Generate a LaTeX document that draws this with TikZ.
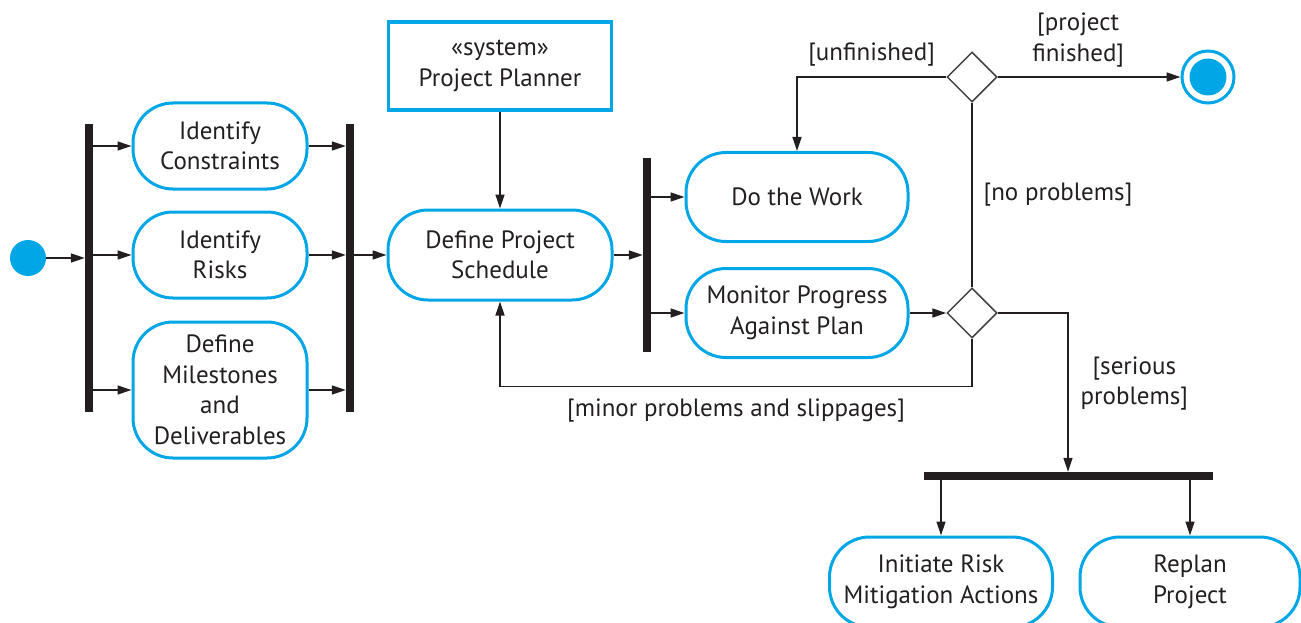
\documentclass[tikz,border=0pt]{standalone}
\usepackage{fontspec}
\setmainfont{PT Sans}
\usepackage{tikz}
\usetikzlibrary{arrows.meta,shapes.geometric,positioning}
\definecolor{actblue}{RGB}{0,166,230}
\definecolor{ink}{RGB}{35,31,32}
\newcommand{\actfont}{\fontsize{25}{30.5}\selectfont}
\newcommand{\lw}{1.3pt}

\tikzset{
  activity/.style={draw=actblue, line width=3pt, rounded corners=40pt, minimum width=174pt,
    minimum height=86pt, align=center, text=ink, font=\actfont, inner sep=0pt},
  system/.style={draw=actblue, line width=3.5pt, minimum width=223pt, minimum height=88pt,
    align=center, text=ink, font=\actfont, inner sep=0pt},
  bar/.style={fill=ink, inner sep=0pt, minimum width=8pt},
  hbar/.style={fill=ink, inner sep=0pt, minimum height=8pt},
  decision/.style={diamond, draw=ink!85, line width=1.5pt, minimum width=50pt, minimum height=50pt, inner sep=0pt},
  startdot/.style={circle, fill=actblue, minimum size=36pt, inner sep=0pt},
  endring/.style={circle, draw=actblue, line width=3pt, minimum size=52pt, inner sep=0pt},
  enddot/.style={circle, fill=actblue, minimum size=37pt, inner sep=0pt},
  arr/.style={-{Triangle[length=14pt,width=9pt]}, line width=\lw, draw=ink},
  flow/.style={line width=\lw, draw=ink},
  guard/.style={font=\actfont, text=ink, align=center, inner sep=0pt}
}

\begin{document}
\begin{tikzpicture}[x=1pt, y=-1pt]
        %\draw[help lines] (0,0) grid[step=50] (1301,623);
        \clip (0,0) rectangle (1301,623);
        % initial node and first fork
        \node[startdot] (start) at (28,258) {};
        \node[bar, minimum height=288pt] (fork1) at (89,268) {};
        \node[activity] (constraints) at (220,146) {Identify\\Constraints};
        \node[activity] (risks) at (220,255) {Identify\\Risks};
        \node[activity, minimum height=136pt] (milestones) at (220,390) {Define\\Milestones\\and\\Deliverables};
        \node[bar, minimum height=288pt] (join1) at (350,268) {};
        % schedule
        \node[system] (planner) at (500,66) {«system»\\Project Planner};
        \node[activity, minimum width=224pt, minimum height=90pt] (schedule) at (500,255) {Define Project\\Schedule};
        \node[bar, minimum height=194pt] (fork2) at (647,255) {};
        \node[activity, minimum width=222pt, minimum height=89pt] (work) at (797,197) {Do the Work};
        \node[activity, minimum width=222pt, minimum height=89pt] (monitor) at (797,313) {Monitor Progress\\Against Plan};
        % decisions and final node
        \node[decision] (check) at (972,313) {};
        \node[decision] (done) at (972,77) {};
        \node[endring] (final) at (1208,77) {};
        \node[enddot] (finaldot) at (final) {};
        % serious problems
        \node[hbar, minimum width=289pt] (fork3) at (1068,476) {};
        \node[activity, minimum width=223pt, minimum height=90pt] (mitigate) at (941,582) {Initiate Risk\\Mitigation Actions};
        \node[activity, minimum width=220pt, minimum height=90pt] (replan) at (1190,582) {Replan\\Project};

        \draw[arr] (start.east) -- (start -| fork1.west);
        \foreach \act in {constraints,risks,milestones} {
                \draw[arr] (fork1.east |- \act) -- (\act.west);
                \draw[arr] (\act.east) -- (\act -| join1.west);
        }
        \draw[arr] (join1.east |- schedule) -- (schedule.west);
        \draw[arr] (planner.south) -- (schedule.north);
        \draw[arr] (schedule.east) -- (schedule -| fork2.west);
        \draw[arr] (fork2.east |- work) -- (work.west);
        \draw[arr] (fork2.east |- monitor) -- (monitor.west);
        \draw[arr] (monitor.east) -- (check.west);
        \draw[flow] (check.north) -- node[guard, right=11pt]{[no problems]} (done.south);
        \draw[arr] (done.west) -| node[guard, pos=0.25, yshift=22pt]{[unfinished]} (work.north);
        \draw[arr] (done.east) -- node[guard, pos=0.44, yshift=37pt]{[project\\finished]} (final.west);
        \draw[arr] (check.south) -- ++(0,48) -| node[guard, pos=0.25, yshift=-24pt]{[minor problems and slippages]} (schedule.south);
        \draw[arr] (check.east) -| node[guard, pos=0.75, right=12pt, yshift=9pt]{[serious\\problems]} (fork3.north);
        \draw[arr] (fork3.south -| mitigate) -- (mitigate.north);
        \draw[arr] (fork3.south -| replan) -- (replan.north);
\end{tikzpicture}
\end{document}
